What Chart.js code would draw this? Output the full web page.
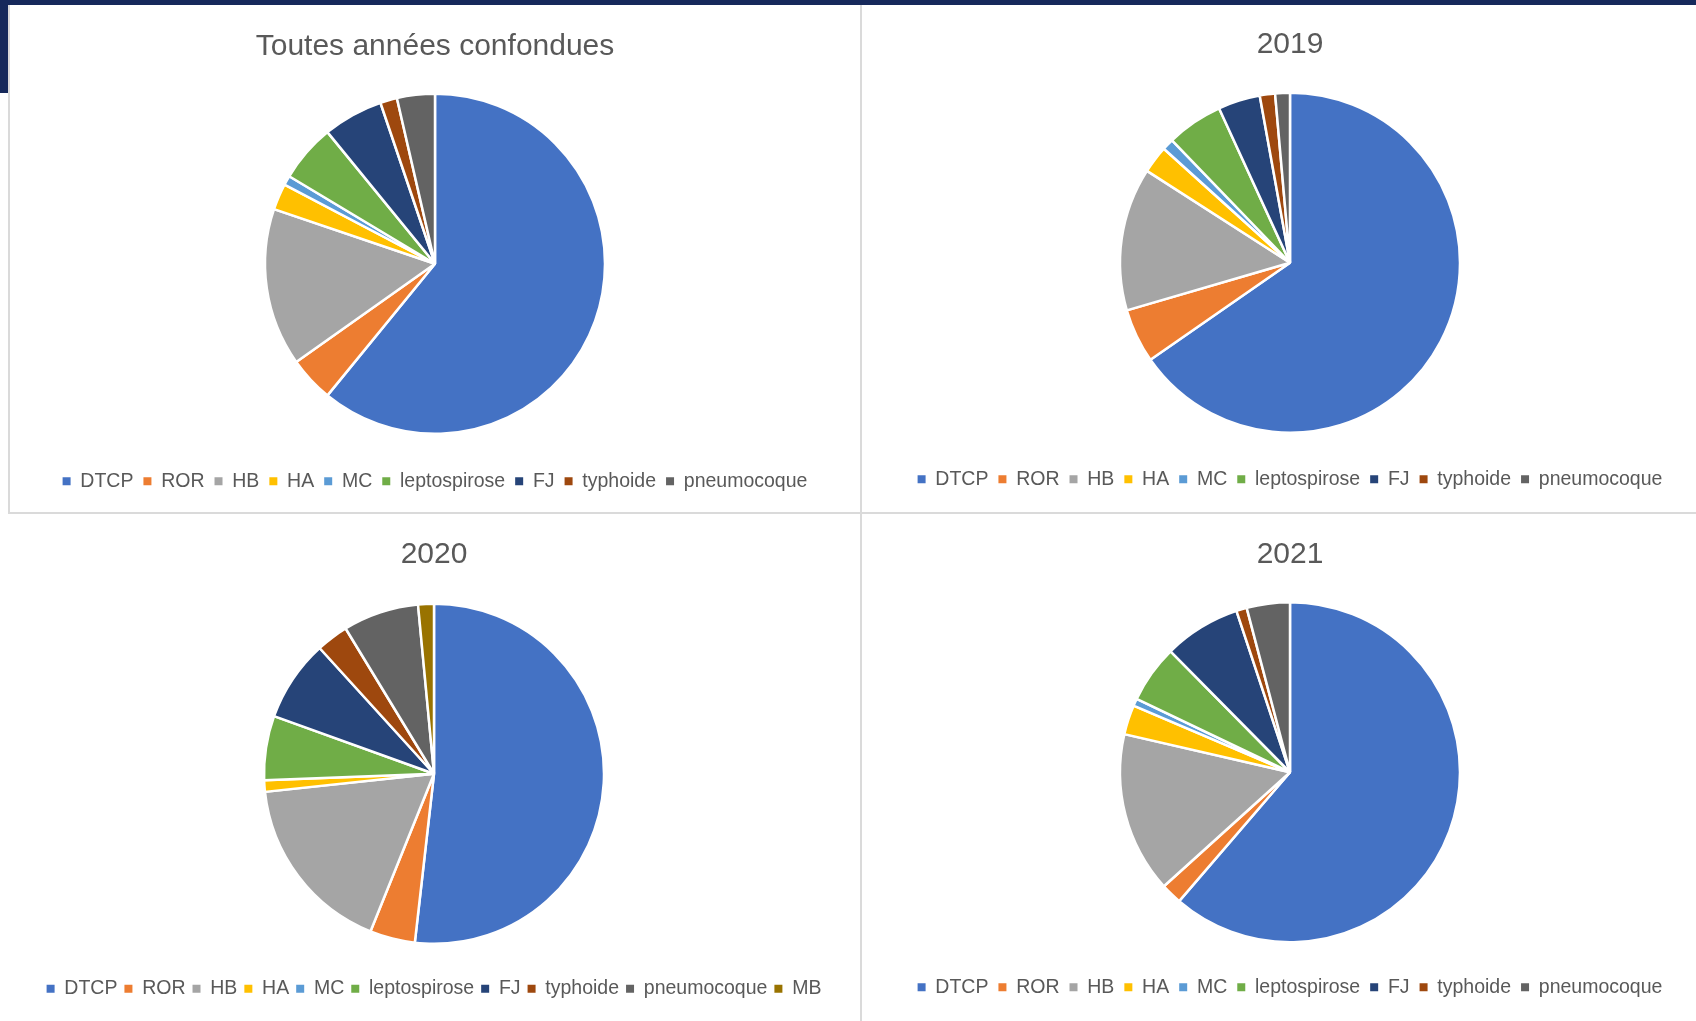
<!DOCTYPE html>
<html lang="fr">
<head>
<meta charset="utf-8">
<title>Vaccinations par année</title>
<script src="https://cdn.jsdelivr.net/npm/chart.js@4.4.1/dist/chart.umd.min.js"></script>
<style>
  html, body { margin: 0; padding: 0; background: #fff; }
  body { width: 1696px; height: 1021px; position: relative; overflow: hidden; }
  .banner { position: absolute; background: #16295b; }
  .line { position: absolute; background: #dadada; }
  .panel { position: absolute; }
</style>
</head>
<body>
  <div class="banner" style="left:0;top:0;width:1696px;height:5px;"></div>
  <div class="banner" style="left:0;top:0;width:9px;height:93px;"></div>

  <div class="panel" style="left:9px;top:5px;width:852px;height:508px;"><canvas id="chart-all"></canvas></div>
  <div class="panel" style="left:862px;top:5px;width:856px;height:508px;"><canvas id="chart-2019"></canvas></div>
  <div class="panel" style="left:0px;top:514px;width:868px;height:507px;"><canvas id="chart-2020"></canvas></div>
  <div class="panel" style="left:862px;top:514px;width:856px;height:507px;"><canvas id="chart-2021"></canvas></div>

  <div class="line" style="left:8px;top:5px;width:2px;height:509px;"></div>
  <div class="line" style="left:8px;top:512px;width:1688px;height:2px;"></div>
  <div class="line" style="left:860px;top:5px;width:2px;height:1016px;"></div>

<script>
// Données (parts en %)
const vaccins = ['DTCP', 'ROR', 'HB', 'HA', 'MC', 'leptospirose', 'FJ', 'typhoide', 'pneumocoque'];
const vaccins2020 = ['DTCP', 'ROR', 'HB', 'HA', 'MC', 'leptospirose', 'FJ', 'typhoide', 'pneumocoque', 'MB'];

const partsToutes = [60.9, 4.3, 15.0, 2.5, 0.9, 5.5, 5.7, 1.6, 3.6];
const parts2019 = [65.3, 5.15, 13.6, 2.6, 1.1, 5.35, 4.0, 1.45, 1.4];
const parts2020 = [51.8, 4.3, 17.2, 1.1, 0, 6.1, 7.75, 3.05, 7.2, 1.5];
const parts2021 = [61.3, 2.0, 15.3, 2.8, 0.7, 5.5, 7.3, 1.0, 4.1];

const couleurs = ['#4472C4', '#ED7D31', '#A5A5A5', '#FFC000', '#5B9BD5', '#70AD47', '#264478', '#9E480E', '#636363', '#997300'];

const police = "'Liberation Sans', Arial, sans-serif";
const gris = '#595959';

function makePie(id, titre, labels, valeurs, pad) {
    const ctx = document.getElementById(id).getContext('2d');
    return new Chart(ctx, {
        type: 'pie',
        data: {
            labels: labels,
            datasets: [{
                data: valeurs,
                backgroundColor: couleurs.slice(0, labels.length),
                borderColor: '#ffffff',
                borderWidth: 2.5
            }]
        },
        options: {
            responsive: true,
            maintainAspectRatio: false,
            animation: false,
            radius: 170,
            layout: { padding: { top: 0, bottom: pad.bottom, left: 0, right: 0 } },
            plugins: {
                title: {
                    display: true,
                    text: titre,
                    color: gris,
                    font: { family: police, size: 30, weight: 'normal' },
                    padding: { top: pad.titleTop, bottom: pad.titleBottom }
                },
                legend: {
                    position: 'bottom',
                    labels: {
                        color: gris,
                        font: { family: police, size: 19.5 },
                        boxWidth: 8,
                        boxHeight: 8,
                        padding: pad.legendGap,
                        generateLabels: function(chart) {
                            const base = Chart.overrides.pie.plugins.legend.labels.generateLabels(chart);
                            return base.map(item => Object.assign(item, { lineWidth: 0 }));
                        }
                    }
                },
                tooltip: { enabled: false }
            }
        }
    });
}

makePie('chart-all', 'Toutes années confondues', vaccins, partsToutes, { titleTop: 24, titleBottom: 1, bottom: 12, legendGap: 10 });
makePie('chart-2019', '2019', vaccins, parts2019, { titleTop: 22, titleBottom: 3, bottom: 14, legendGap: 10 });
makePie('chart-2020', '2020', vaccins2020, parts2020, { titleTop: 23, titleBottom: 2.5, bottom: 12.5, legendGap: 7 });
makePie('chart-2021', '2021', vaccins, parts2021, { titleTop: 23, titleBottom: 4, bottom: 14, legendGap: 10 });
</script>
</body>
</html>
